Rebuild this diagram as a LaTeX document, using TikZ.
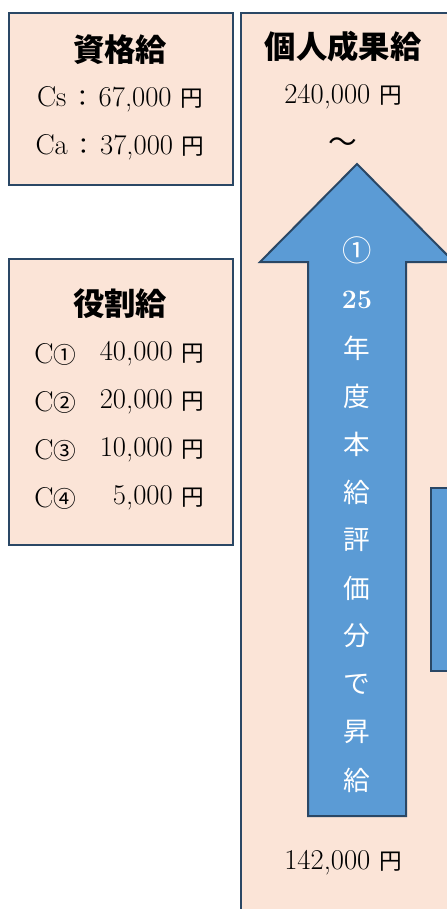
\documentclass[tikz,border=0pt]{standalone}
\usepackage{fontspec}
\newfontfamily\jp{Noto Sans CJK JP}
\definecolor{peach}{HTML}{FBE4D7}
\definecolor{navy}{HTML}{2A4765}
\definecolor{sky}{HTML}{5B9BD5}
\tikzset{
  box/.style={draw=navy, fill=peach, line width=1.5pt},
  bluebox/.style={draw=navy, fill=sky, line width=1.5pt, line join=miter},
  title/.style={font=\jp\bfseries\fontsize{23.5}{28}\selectfont, inner sep=0pt},
  val/.style={font=\fontsize{21.5}{24}\selectfont, inner sep=0pt},
  atext/.style={font=\jp\fontsize{20}{24}\selectfont, text=white, inner sep=0pt}
}
\newcommand{\jpsm}{\jp\fontsize{17}{20}\selectfont}
\begin{document}
\begin{tikzpicture}[x=0.75pt, y=-0.75pt]
\useasboundingbox (0,0) rectangle (446,909);
% boxes
\node[box, anchor=north west, minimum width=168pt, minimum height=129pt] (shikaku) at (8,12) {};
\node[box, anchor=north west, minimum width=168pt, minimum height=214.5pt] (yakuwari) at (8,258) {};
\node[box, anchor=north west, minimum width=180pt, minimum height=700pt] (kojin) at (240,12) {};
% arrow
\draw[bluebox] (357,164) -- (454,262) -- (406,262) -- (406,816) -- (308,816) -- (308,262) -- (260,262) -- cycle;
% small blue box
\node[bluebox, anchor=north west, minimum width=40pt, minimum height=137pt] (side) at (430,487) {};
% texts box 1
\node[title] (t1) at (120,50) {資格給};
\node[val] (cs) at (120,99) {Cs\,{\jpsm ：}\,67,000 {\jpsm 円}};
\node[val] (ca) at (120,147) {Ca\,{\jpsm ：}\,37,000 {\jpsm 円}};
% box 2
\node[title] (t2) at (120,304) {役割給};
\foreach \n/\c/\v/\y in {r1/①/{40,000}/354, r2/②/{20,000}/402, r3/③/{10,000}/450, r4/④/{5,000}/498}{
  \node[val, anchor=west] (\n c) at (34,\y) {C{\jpsm\c}};
  \node[val, anchor=east] (\n v) at (173,\y) {\v};
  \node[val, anchor=west] (\n y) at (181,\y) {\jpsm 円};
}
% box 3
\node[title] (t3) at (343,47) {個人成果給};
\node[val] (max) at (343,97) {240,000 {\jpsm 円}};
\node[val] (tilde) at (343,145) {\jp ～};
\node[val] (min) at (343,863) {142,000 {\jpsm 円}};
% arrow text
\node[atext, font=\jp\fontsize{22}{24}\selectfont] (a1) at (357,250) {①};
\node[font=\bfseries\fontsize{20}{22}\selectfont, text=white, inner sep=0pt] (a2) at (357,300) {25};
\foreach \ch [count=\i] in {年,度,本,給,評,価,分,で,昇,給}{
  \node[atext] (b\i) at (357,{300+\i*48}) {\ch};
}
\end{tikzpicture}
\end{document}
